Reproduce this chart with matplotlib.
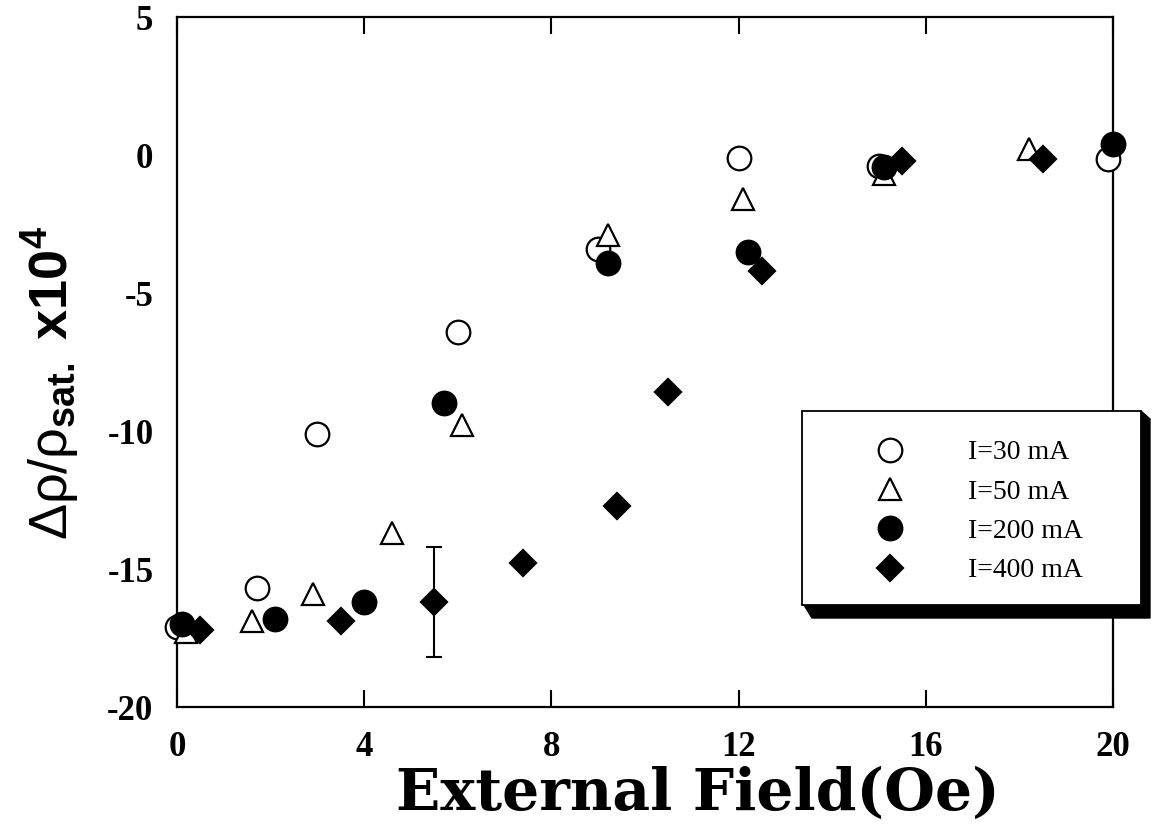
import matplotlib
matplotlib.use("Agg")
import matplotlib.pyplot as plt
from matplotlib.lines import Line2D
from matplotlib.patches import Rectangle, Polygon

# Magnetoresistance vs external field for several bias currents
field_30 = [0.0, 1.7, 3.0, 6.0, 9.0, 12.0, 15.0, 19.9]
drho_30 = [-17.1, -15.7, -10.1, -6.4, -3.4, -0.1, -0.4, -0.15]

field_50 = [0.2, 1.6, 2.9, 4.6, 6.1, 9.2, 12.1, 15.1, 18.2]
drho_50 = [-17.3, -16.9, -15.9, -13.7, -9.8, -2.9, -1.6, -0.7, 0.2]

field_200 = [0.1, 2.1, 4.0, 5.7, 9.2, 12.2, 15.1, 20.0]
drho_200 = [-17.0, -16.8, -16.2, -9.0, -3.9, -3.5, -0.45, 0.4]

field_400 = [0.5, 3.5, 5.5, 7.4, 9.4, 10.5, 12.5, 15.5, 18.5]
drho_400 = [-17.2, -16.9, -16.2, -14.8, -12.7, -8.6, -4.2, -0.2, -0.15]

errbar_x = 5.5
errbar_y = -16.2
errbar_err = 2.0

labels = ["I=30 mA", "I=50 mA", "I=200 mA", "I=400 mA"]
xticks = [0, 4, 8, 12, 16, 20]
yticks = [-20, -15, -10, -5, 0, 5]

plt.rcParams["axes.unicode_minus"] = False
plt.rcParams["mathtext.fontset"] = "custom"
plt.rcParams["mathtext.rm"] = "Liberation Sans"
plt.rcParams["mathtext.it"] = "Liberation Sans"
plt.rcParams["mathtext.bf"] = "Liberation Sans:bold"

W, H = 1157, 832
fig = plt.figure(figsize=(W / 100, H / 100), dpi=100)
L, R, T, B = 177, 1113, 17, 707
ax = fig.add_axes([L / W, 1 - B / H, (R - L) / W, (B - T) / H])

ax.set_xlim(0, 20)
ax.set_ylim(-20, 5)

ms_c = 17
ms_t = 16
ms_d = 13
lw_m = 1.6

ax.plot(field_30, drho_30, ls="none", marker="o", ms=ms_c, mfc="white",
        mec="black", mew=lw_m, clip_on=False, zorder=3)
ax.plot(field_50, drho_50, ls="none", marker="^", ms=ms_t, mfc="white",
        mec="black", mew=lw_m, clip_on=False, zorder=4)
ax.plot(field_200, drho_200, ls="none", marker="o", ms=ms_c, mfc="black",
        mec="black", mew=lw_m, clip_on=False, zorder=5)
ax.plot(field_400, drho_400, ls="none", marker="D", ms=ms_d, mfc="black",
        mec="black", mew=lw_m, clip_on=False, zorder=6)
ax.errorbar([errbar_x], [errbar_y], yerr=[errbar_err], fmt="none",
            ecolor="black", elinewidth=1.5, capsize=6, capthick=1.5, zorder=2)

for s in ax.spines.values():
    s.set_linewidth(1.6)

ax.set_xticks(xticks)
ax.set_yticks(yticks)
ax.set_xticklabels([str(v) for v in xticks])
ax.set_yticklabels([str(v) for v in yticks])
ax.tick_params(axis="x", direction="in", length=12, width=1.5, top=True,
               pad=17, labelsize=25)
ax.tick_params(axis="y", direction="in", length=0, width=1.5, pad=17,
               labelsize=25)
for lab in ax.get_xticklabels() + ax.get_yticklabels():
    lab.set_fontfamily("Liberation Serif")
    lab.set_fontweight("bold")

ax.set_xlabel("External Field(Oe)", fontsize=42, fontweight="bold",
              family="DejaVu Serif", va="top")
ax.xaxis.set_label_coords(0.556, -0.086)
ax.set_ylabel(r"$\Delta\rho/\rho_{\mathbf{sat.}}\ \mathbf{x10^4}$",
              fontsize=39)
ax.yaxis.set_label_coords(-0.102, 0.47)

# Legend box with a heavy drop shadow
bx0, by0, bx1, by1 = 802, 411, 1141, 605
sh = Polygon([[(bx0 + 2) / W, 1 - (by1) / H],
              [(bx0 + 10) / W, 1 - (by1 + 13) / H],
              [(bx1 + 9) / W, 1 - (by1 + 13) / H],
              [(bx1 + 9) / W, 1 - (by0 + 8) / H],
              [(bx1) / W, 1 - (by0) / H],
              [(bx1) / W, 1 - (by1) / H]],
             closed=True, transform=fig.transFigure, facecolor="black",
             edgecolor="black", zorder=10)
box = Rectangle((bx0 / W, 1 - by1 / H), (bx1 - bx0) / W, (by1 - by0) / H,
                transform=fig.transFigure, facecolor="white",
                edgecolor="black", linewidth=1.3, zorder=11)
fig.patches.extend([sh, box])

handles = [
    Line2D([], [], ls="none", marker="o", ms=ms_c, mfc="white", mec="black", mew=lw_m),
    Line2D([], [], ls="none", marker="^", ms=ms_t, mfc="white", mec="black", mew=lw_m),
    Line2D([], [], ls="none", marker="o", ms=ms_c, mfc="black", mec="black", mew=lw_m),
    Line2D([], [], ls="none", marker="D", ms=ms_d, mfc="black", mec="black", mew=lw_m),
]
leg = fig.legend(handles, labels, loc="upper left",
                 bbox_to_anchor=(876 / W, 1 - 440 / H),
                 frameon=False, handlelength=1.0, handletextpad=2.3,
                 labelspacing=0.5, borderpad=0, borderaxespad=0,
                 prop={"family": "Liberation Serif", "size": 20})
leg.set_zorder(12)

fig.savefig("out.png", dpi=100)
